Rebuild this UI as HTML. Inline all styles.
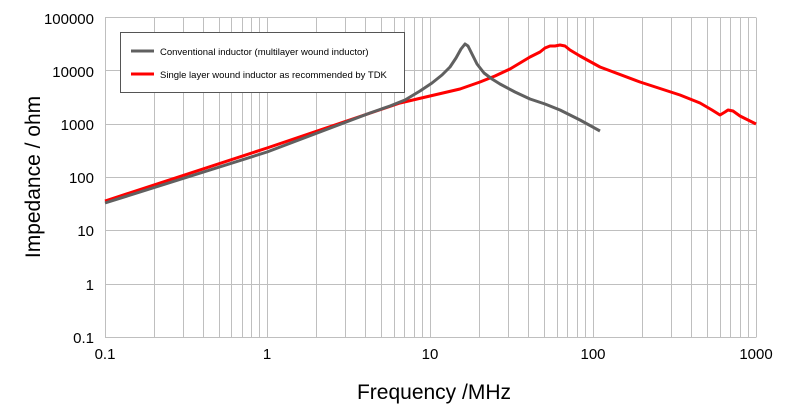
<!DOCTYPE html>
<html><head><style>body{margin:0;background:#fff}svg{display:block}</style></head><body>
<svg width="785" height="407" xmlns="http://www.w3.org/2000/svg" font-family="Liberation Sans, sans-serif">
<rect width="785" height="407" fill="#fff"/>
<g stroke="#bfbfbf" stroke-width="1" fill="none">
<path d="M105.5 17.5V337.5M756.5 17.5V337.5M105 17.5H756M105 70.5H756M105 124.5H756M105 177.5H756M105 230.5H756M105 284.5H756M105 337.5H756"/>
<path d="M154.5 17V337M183.5 17V337M203.5 17V337M219.5 17V337M231.5 17V337M242.5 17V337M251.5 17V337M259.5 17V337M267.5 17V337
M316.5 17V337M345.5 17V337M365.5 17V337M381.5 17V337M394.5 17V337M404.5 17V337M414.5 17V337M422.5 17V337M430.5 17V337
M479.5 17V337M508.5 17V337M528.5 17V337M544.5 17V337M557.5 17V337M567.5 17V337M577.5 17V337M585.5 17V337M593.5 17V337
M642.5 17V337M671.5 17V337M691.5 17V337M707.5 17V337M720.5 17V337M730.5 17V337M740.5 17V337M748.5 17V337"/>
</g>
<g font-size="15" fill="#000" text-anchor="end">
<text x="94" y="24">100000</text><text x="94" y="77">10000</text><text x="94" y="130">1000</text>
<text x="94" y="183">100</text><text x="94" y="236">10</text><text x="94" y="290">1</text><text x="94" y="343">0.1</text>
</g>
<g font-size="15" fill="#000" text-anchor="middle">
<text x="105" y="359">0.1</text><text x="267" y="359">1</text><text x="430" y="359">10</text><text x="593" y="359">100</text><text x="756" y="359">1000</text>
</g>
<text x="434" y="399" font-size="21" text-anchor="middle">Frequency /MHz</text>
<text transform="translate(40,177) rotate(-90)" font-size="21" text-anchor="middle">Impedance / ohm</text>
<path d="M105 201L267 148L400 103L430 96L460 89L480 82L495 76L510 69L520 63L530 57L540 52L545 48L550 46L555 46L560 45L565 46L570 50L580 56L600 67L640 82L680 95L700 103L712 110L720 115L725 112L728 110L733 111L740 116L756 124" fill="none" stroke="#f00" stroke-width="3" stroke-linejoin="round"/>
<path d="M105 203L267 152L370 113L390 106L405 100L420 91L432 83L442 75L450 67L456 58L461 49L465 44L468 46L472 54L477 64L484 73L492 79L500 84L515 92L530 99L545 104L560 110L580 120L600 131" fill="none" stroke="#606060" stroke-width="3" stroke-linejoin="round"/>
<rect x="120.5" y="32.5" width="284" height="60" fill="#fff" stroke="#555"/>
<line x1="131" y1="51" x2="154" y2="51" stroke="#606060" stroke-width="3"/>
<line x1="131" y1="74" x2="154" y2="74" stroke="#f00" stroke-width="3"/>
<g font-size="9.5" fill="#000"><text x="160" y="55">Conventional inductor (multilayer wound inductor)</text>
<text x="160" y="78">Single layer wound inductor as recommended by TDK</text></g>
</svg>
</body></html>
